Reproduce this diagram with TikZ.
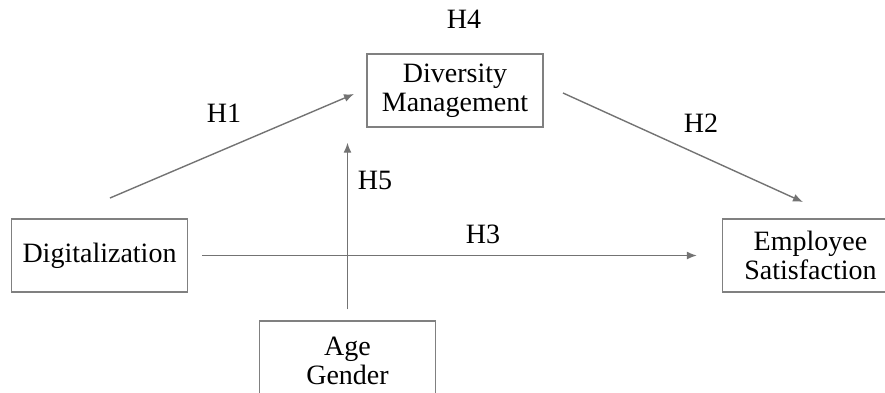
\documentclass[tikz,border=0pt]{standalone}
\usepackage{fontspec}
\setmainfont{Liberation Serif}
\usetikzlibrary{arrows.meta}
\begin{document}
\begin{tikzpicture}[x=0.5pt,y=-0.5pt,
    box/.style={draw=black!50,line width=0.7pt,minimum width=88pt,minimum height=36.5pt,
        inner sep=0pt,align=center,font=\fontsize{14}{14.5}\selectfont},
    conn/.style={draw=black!55,line width=0.7pt,-{Latex[length=5pt,width=4pt]}},
    lbl/.style={font=\fontsize{14}{14.5}\selectfont,inner sep=0pt}]
    \useasboundingbox (0,0) rectangle (885,392);
    %% boxes
    \node[box] (dm) at (455,90.5) {Diversity\\Management};
    \node[box] (dig) at (99.5,255.5) {Digitalization};
    \node[box] (emp) at (810.5,255.5) {Employee\\Satisfaction};
    \node[box,minimum height=40pt] (age) at (347.5,361) {Age\\Gender};
    %% arrow ends
    \coordinate (h1a) at (110,198);
    \coordinate (h1b) at (354,94);
    \coordinate (h2a) at (563,93);
    \coordinate (h2b) at (803,202);
    %% paths
    \draw[conn] (h1a) -- (h1b);
    \draw[conn] (h2a) -- (h2b);
    \draw[conn,shorten <=7pt,shorten >=12.5pt] (dig.east) -- (emp.west);
    \draw[conn,shorten <=5.5pt,shorten >=7.5pt] (age.north) -- (age.north |- dm.south);
    %% labels
    \node[lbl] (h1) at (224,113) {H1};
    \node[lbl] (h2) at (701,123) {H2};
    \node[lbl] (h3) at (483,234) {H3};
    \node[lbl] (h4) at (464,19) {H4};
    \node[lbl] (h5) at (375,180) {H5};
\end{tikzpicture}
\end{document}
